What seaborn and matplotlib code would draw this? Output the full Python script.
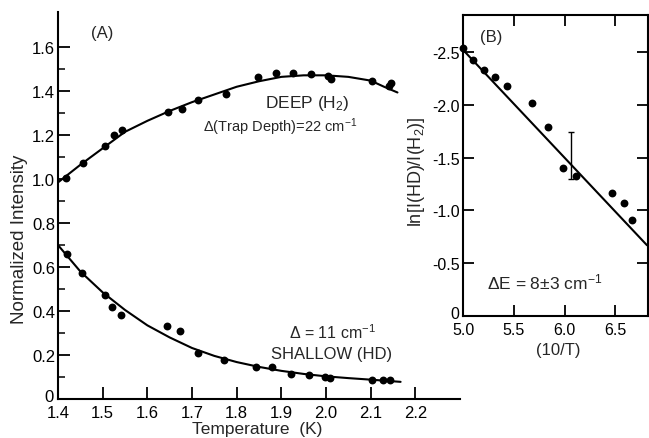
import numpy as np
import pandas as pd
import matplotlib
matplotlib.use('Agg')
import matplotlib.pyplot as plt
import matplotlib.transforms as mtransforms
import seaborn as sns

# --- panel A: normalized intensity vs temperature ---
deep_T = [1.419, 1.455, 1.505, 1.526, 1.544, 1.646, 1.677, 1.714, 1.776, 1.847,
          1.888, 1.926, 1.966, 2.005, 2.012, 2.104, 2.140, 2.146]
deep_I = [1.005, 1.073, 1.151, 1.200, 1.223, 1.305, 1.321, 1.358, 1.385, 1.466,
          1.481, 1.482, 1.480, 1.467, 1.455, 1.447, 1.424, 1.436]

shallow_T = [1.421, 1.454, 1.505, 1.520, 1.540, 1.643, 1.674, 1.714, 1.772, 1.843,
             1.880, 1.922, 1.962, 1.997, 2.009, 2.102, 2.128, 2.143]
shallow_I = [0.659, 0.573, 0.473, 0.417, 0.382, 0.330, 0.308, 0.209, 0.177, 0.147,
             0.144, 0.115, 0.110, 0.102, 0.095, 0.088, 0.086, 0.088]

# fitted curves
deep_fit_T = [1.40, 1.45, 1.50, 1.55, 1.60, 1.65, 1.70, 1.75, 1.80, 1.85, 1.90,
              1.95, 2.00, 2.05, 2.10, 2.13, 2.16]
deep_fit_I = [0.985, 1.065, 1.140, 1.215, 1.265, 1.310, 1.350, 1.385, 1.420, 1.445,
              1.465, 1.472, 1.472, 1.465, 1.448, 1.420, 1.394]
shallow_fit_T = [1.40, 1.45, 1.50, 1.55, 1.60, 1.65, 1.70, 1.75, 1.80, 1.85, 1.90,
                 1.95, 2.00, 2.05, 2.10, 2.167]
shallow_fit_I = [0.700, 0.580, 0.485, 0.405, 0.335, 0.280, 0.232, 0.196, 0.168, 0.146,
                 0.128, 0.114, 0.103, 0.095, 0.088, 0.078]

a_xticks = [1.4, 1.5, 1.6, 1.7, 1.8, 1.9, 2.0, 2.1, 2.2]
a_xlabels = ['1.4', '1.5', '1.6', '1.7', '1.8', '1.9', '2.0', '2.1', '2.2']
a_yticks = [0, 0.2, 0.4, 0.6, 0.8, 1.0, 1.2, 1.4, 1.6]
a_ylabels = ['0', '0.2', '0.4', '0.6', '0.8', '1.0', '1.2', '1.4', '1.6']
a_yminor = [0.1, 0.3, 0.5, 0.7, 0.9, 1.1, 1.3, 1.5]

# --- panel B: ln ratio vs 10/T ---
inv_T = [5.00, 5.10, 5.21, 5.31, 5.43, 5.68, 5.84, 5.98, 6.11, 6.47, 6.58, 6.66]
ln_ratio = [-2.54, -2.42, -2.33, -2.26, -2.18, -2.02, -1.79, -1.40, -1.33, -1.16, -1.07, -0.91]
fit_x = [5.00, 6.81]
fit_y = [-2.52, -0.67]
err_x = [6.06]
err_y = [-1.52]
err_size = [0.22]

b_xticks = [5.0, 5.5, 6.0, 6.5]
b_xlabels = ['5.0', '5.5', '6.0', '6.5']
b_yticks = [0, -0.5, -1.0, -1.5, -2.0, -2.5]
b_ylabels = ['0', '-0.5', '-1.0', '-1.5', '-2.0', '-2.5']

sns.set_theme(style='ticks')
plt.rcParams['font.family'] = ['Liberation Sans', 'DejaVu Sans']
plt.rcParams['mathtext.default'] = 'regular'
plt.rcParams['axes.unicode_minus'] = False

fig = plt.figure(figsize=(6.49, 4.39), dpi=100)
axA = fig.add_axes([58 / 649, 39 / 439, 402 / 649, 387 / 439])
axB = fig.add_axes([463 / 649, 122 / 439, 185 / 649, 301 / 439])
for ax in (axA, axB):
    ax.set_facecolor('none')

# panel A
sns.lineplot(ax=axA, x=deep_fit_T, y=deep_fit_I, color='black', linewidth=1.5, sort=False)
sns.lineplot(ax=axA, x=shallow_fit_T, y=shallow_fit_I, color='black', linewidth=1.5, sort=False)
sns.scatterplot(ax=axA, x=deep_T, y=deep_I, color='black', s=32, linewidth=0, zorder=3)
sns.scatterplot(ax=axA, x=shallow_T, y=shallow_I, color='black', s=32, linewidth=0, zorder=3)

axA.set_xlim(1.4, 2.3)
axA.set_ylim(0, 1.76)
axA.set_xticks(a_xticks, a_xlabels)
axA.set_yticks(a_yticks, a_ylabels)
axA.set_yticks(a_yminor, minor=True)
axA.tick_params(axis='both', which='major', direction='in', length=8.5, width=1.3,
                labelsize=12, colors='black')
axA.tick_params(axis='x', pad=4)
axA.tick_params(axis='y', pad=2)
axA.tick_params(axis='y', which='minor', direction='in', length=5, width=1.3)
for side in ('top', 'right'):
    axA.spines[side].set_visible(False)
for side in ('left', 'bottom'):
    axA.spines[side].set_linewidth(1.5)
    axA.spines[side].set_color('black')

axA.set_xlabel('Temperature  (K)', fontsize=12.5)
axA.set_ylabel('Normalized Intensity', fontsize=13.5)
axA.xaxis.set_label_coords(0.495, -0.058)
axA.yaxis.set_label_coords(-0.075, 0.416)

axA.text(1.50, 1.668, '(A)', fontsize=12, ha='center', va='center')
axA.text(1.957, 1.35, 'DEEP (H$_2$)', fontsize=12.5, ha='center', va='center')
axA.text(1.897, 1.241, 'Δ(Trap Depth)=22 cm$^{-1}$', fontsize=10.5, ha='center', va='center')
axA.text(2.014, 0.305, 'Δ = 11 cm$^{-1}$', fontsize=11.5, ha='center', va='center')
axA.text(2.012, 0.205, 'SHALLOW (HD)', fontsize=12, ha='center', va='center')

# panel B
sns.lineplot(ax=axB, x=fit_x, y=fit_y, color='black', linewidth=1.5, sort=False)
sns.scatterplot(ax=axB, x=inv_T, y=ln_ratio, color='black', s=32, linewidth=0,
                zorder=3, clip_on=False)
axB.errorbar(err_x, err_y, yerr=err_size, fmt='none', ecolor='black', elinewidth=1.0,
             capsize=2.5, capthick=1.0)

axB.set_xlim(5.0, 6.82)
axB.set_ylim(0, -2.85)
axB.set_xticks(b_xticks, b_xlabels)
axB.set_yticks(b_yticks, b_ylabels)
axB.tick_params(axis='both', which='major', direction='in', length=8, width=1.3,
                labelsize=11.5, colors='black', top=True, right=True)
axB.tick_params(axis='x', pad=4)
axB.tick_params(axis='y', pad=2)
for side in axB.spines:
    axB.spines[side].set_linewidth(1.5)
    axB.spines[side].set_color('black')

axB.set_xlabel('(10/T)', fontsize=12)
axB.set_ylabel('ln[I(HD)/I(H$_2$)]', fontsize=13)
axB.xaxis.set_label_coords(0.514, -0.085)
axB.yaxis.set_label_coords(-0.195, 0.482)

axB.text(5.28, -2.65, '(B)', fontsize=12, ha='center', va='center')
axB.text(5.80, -0.33, 'ΔE = 8±3 cm$^{-1}$', fontsize=12.5, ha='center', va='center')

# lift the "0" labels a little so they clear the x tick labels at the corner
lift = mtransforms.ScaledTranslation(-1 / 72, 3 / 72, fig.dpi_scale_trans)
for ax in (axA, axB):
    lbl = ax.get_yticklabels()[0]
    lbl.set_transform(lbl.get_transform() + lift)

fig.savefig('out.png', dpi=100)
